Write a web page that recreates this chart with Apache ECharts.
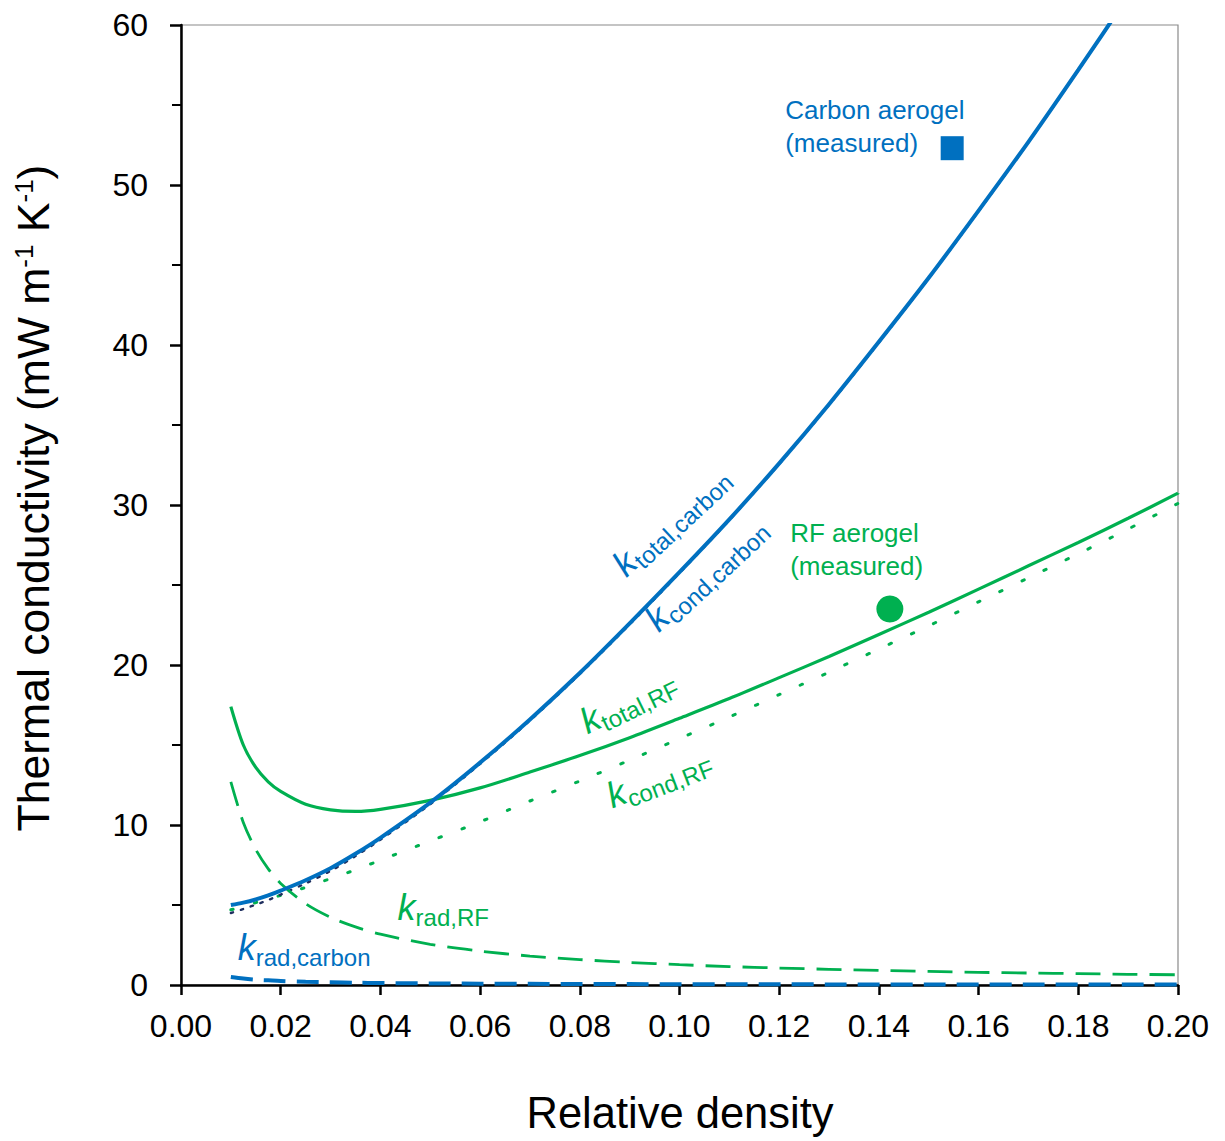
<!DOCTYPE html>
<html><head><meta charset="utf-8">
<script src="https://cdn.jsdelivr.net/npm/echarts@6/dist/echarts.min.js"></script>
<style>html,body{margin:0;padding:0;background:#fff}#c{width:1225px;height:1141px}</style>
</head><body><div id="c"></div>
<script>
// ---- data ----
const density       = [0.010,0.0125,0.015,0.0175,0.020,0.025,0.030,0.035,0.040,0.050,0.060,0.070,0.080,0.090,0.100,0.110,0.120,0.130,0.140,0.150,0.160,0.170,0.180,0.190,0.200];
const kTotalCarbon  = [5.0,5.15,5.35,5.6,5.9,6.55,7.3,8.2,9.2,11.4,13.9,16.6,19.5,22.6,25.8,29.1,32.6,36.3,40.2,44.2,48.4,52.7,57.2,61.8,66.5];
const kCondCarbon   = [4.5,4.75,5.02,5.31,5.65,6.35,7.13,8.06,9.08,11.3,13.82,16.53,19.44,22.54,25.75,29.06,32.56,36.26,40.16,44.17,48.37,52.67,57.17,61.77,66.47];
const kRadCarbon    = [0.50,0.40,0.33,0.29,0.25,0.20,0.17,0.14,0.125,0.10,0.083,0.071,0.063,0.056,0.05,0.045,0.042,0.038,0.036,0.033,0.031,0.029,0.028,0.026,0.025];
const kTotalRF      = [17.4,15.0,13.6,12.7,12.1,11.3,10.95,10.85,10.98,11.54,12.32,13.31,14.34,15.46,16.67,17.9,19.21,20.53,21.91,23.3,24.74,26.2,27.66,29.17,30.74];
const kCondRF       = [4.7,4.9,5.15,5.4,5.6,6.1,6.65,7.2,7.8,9.0,10.2,11.5,12.75,14.05,15.4,16.75,18.15,19.55,21.0,22.45,23.95,25.45,26.95,28.5,30.1];
const kRadRF        = [12.7,10.16,8.47,7.26,6.35,5.08,4.23,3.63,3.18,2.54,2.12,1.81,1.59,1.41,1.27,1.15,1.06,0.98,0.91,0.85,0.79,0.75,0.71,0.67,0.64];
const measuredCarbon = [[0.1547, 52.3]];
const measuredRF     = [[0.1422, 23.5]];
const xTickLabels = ['0.00','0.02','0.04','0.06','0.08','0.10','0.12','0.14','0.16','0.18','0.20'];
const yTickLabels = ['0','10','20','30','40','50','60'];

const BLUE = '#0070C0', GREEN = '#00B050', NAVY = '#1F2F5F';
const FONT = "'Liberation Sans', Arial, sans-serif";
const pairs = ys => density.map((x, i) => [x, ys[i]]);

const chart = echarts.init(document.getElementById('c'), null, {renderer: 'svg'});

const option = {
  animation: false,
  backgroundColor: '#fff',
  grid: {left: 181, right: 47, top: 25, bottom: 156, show: true, borderColor: '#8a8a8a', borderWidth: 1.2},
  xAxis: {
    type: 'value', min: 0, max: 0.2, interval: 0.02,
    axisLine: {show: true, onZero: false, lineStyle: {color: '#000', width: 2.5}},
    splitLine: {show: false},
    axisTick: {show: true, length: 10, lineStyle: {color: '#000', width: 2.5}},
    axisLabel: {color: '#000', fontFamily: FONT, fontSize: 32, margin: 25,
      formatter: v => xTickLabels[Math.round(v / 0.02)]}
  },
  yAxis: {
    type: 'value', min: 0, max: 60, interval: 10,
    axisLine: {show: true, onZero: false, lineStyle: {color: '#000', width: 2.5}},
    splitLine: {show: false},
    axisTick: {show: true, length: 11, lineStyle: {color: '#000', width: 2.5}},
    minorTick: {show: true, splitNumber: 2, length: 9, lineStyle: {color: '#000', width: 2}},
    axisLabel: {color: '#000', fontFamily: FONT, fontSize: 32, margin: 33,
      formatter: v => yTickLabels[Math.round(v / 10)]}
  },
  series: [
    {type: 'line', name: 'k_cond,RF', data: pairs(kCondRF), smooth: 0.3, symbol: 'none', z: 2,
     lineStyle: {color: GREEN, width: 3, type: [2.5, 22], cap: 'round'}},
    {type: 'line', name: 'k_cond,carbon', data: pairs(kCondCarbon), smooth: 0.3, symbol: 'none', z: 2,
     lineStyle: {color: NAVY, width: 2.4, type: [2.4, 8], cap: 'round'}},
    {type: 'line', name: 'k_rad,RF', data: pairs(kRadRF), smooth: 0.3, symbol: 'none', z: 3,
     lineStyle: {color: GREEN, width: 2.8, type: [25, 12]}},
    {type: 'line', name: 'k_rad,carbon', data: pairs(kRadCarbon), smooth: 0.3, symbol: 'none', z: 3,
     lineStyle: {color: BLUE, width: 4, type: [22, 11]}},
    {type: 'line', name: 'k_total,RF', data: pairs(kTotalRF), smooth: 0.3, symbol: 'none', z: 4,
     lineStyle: {color: GREEN, width: 3.2}},
    {type: 'line', name: 'k_total,carbon', data: pairs(kTotalCarbon), smooth: 0.3, symbol: 'none', z: 5, clip: true,
     lineStyle: {color: BLUE, width: 4}},
    {type: 'scatter', name: 'Carbon aerogel (measured)', data: measuredCarbon, symbol: 'rect', symbolSize: [23, 24], z: 6,
     itemStyle: {color: BLUE, opacity: 1}},
    {type: 'scatter', name: 'RF aerogel (measured)', data: measuredRF, symbol: 'circle', symbolSize: 27, z: 6,
     itemStyle: {color: GREEN, opacity: 1}}
  ]
};
chart.setOption(option);

// ---- annotations, placed in data coordinates ----
const curveLabels = [
  {pos: [0.0995, 28.6], rot: 43, sub: 'total,carbon', color: BLUE},
  {pos: [0.1065, 25.3], rot: 43, sub: 'cond,carbon',  color: BLUE},
  {pos: [0.0905, 17.2], rot: 26, sub: 'total,RF',     color: GREEN},
  {pos: [0.0965, 12.4], rot: 21, sub: 'cond,RF',      color: GREEN},
  {pos: [0.0526, 4.25], rot: 0,  sub: 'rad,RF',       color: GREEN},
  {pos: [0.0247, 1.75], rot: 0,  sub: 'rad,carbon',   color: BLUE}
];
const noteLabels = [
  {pos: [0.1212, 53.65], lines: ['Carbon aerogel', '(measured)'], color: BLUE},
  {pos: [0.1222, 27.2],  lines: ['RF aerogel', '(measured)'],     color: GREEN}
];

const graphics = [];
curveLabels.forEach(l => {
  const p = chart.convertToPixel({gridIndex: 0}, l.pos);
  graphics.push({
    type: 'text', x: p[0], y: p[1], rotation: l.rot * Math.PI / 180, z: 10,
    style: {
      text: '{k|k}{s|' + l.sub + '}', align: 'center', verticalAlign: 'middle', fill: l.color,
      fontFamily: FONT,
      rich: {
        k: {fontStyle: 'italic', fontSize: 36, lineHeight: 34, verticalAlign: 'top', fill: l.color, fontFamily: FONT},
        s: {fontSize: 24, lineHeight: 56, fill: l.color, fontFamily: FONT}
      }
    }
  });
});
noteLabels.forEach(n => {
  const p = chart.convertToPixel({gridIndex: 0}, n.pos);
  graphics.push({
    type: 'text', x: p[0], y: p[1], z: 10,
    style: {text: n.lines.join('\n'), align: 'left', verticalAlign: 'middle', fill: n.color,
      fontFamily: FONT, fontSize: 26, lineHeight: 33}
  });
});
// axis titles
graphics.push({
  type: 'text', x: 680, y: 1113, z: 10,
  style: {text: 'Relative density', align: 'center', verticalAlign: 'middle', fill: '#000', fontFamily: FONT, fontSize: 43.5}
});
graphics.push({
  type: 'text', x: 33, y: 498, rotation: Math.PI / 2, z: 10,
  style: {
    text: '{m|Thermal conductivity (mW m}{p|-1}{m| K}{p|-1}{m|)}', align: 'center', verticalAlign: 'middle', fill: '#000',
    fontFamily: FONT,
    rich: {
      m: {fontSize: 44.5, lineHeight: 44, fill: '#000', fontFamily: FONT},
      p: {fontSize: 26, lineHeight: 26, verticalAlign: 'top', fill: '#000', fontFamily: FONT}
    }
  }
});
chart.setOption({graphic: graphics});
</script>
</body></html>
